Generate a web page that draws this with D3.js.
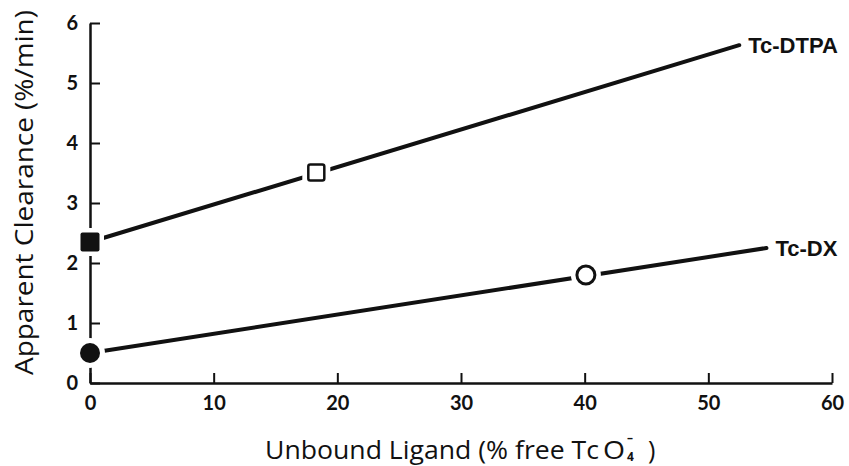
<!DOCTYPE html>
<html>
<head>
<meta charset="utf-8">
<script src="https://cdn.jsdelivr.net/npm/d3@7"></script>
<style>
  body { margin: 0; background: #fff; }
  svg { display: block; }
</style>
</head>
<body>
<svg id="chart"></svg>
<script>
const width = 849;
const height = 466;

// values
const xTicks = [0, 10, 20, 30, 40, 50, 60];
const yTicks = [0, 1, 2, 3, 4, 5, 6];
const seriesNames = ['Tc-DTPA', 'Tc-DX'];

const dtpaX = [0, 18.3];
const dtpaY = [2.35, 3.51];
const dtpaFill = [true, false];
const dtpaFit = [[0, 2.35], [52.5, 5.63]];

const dxX = [0, 40.1];
const dxY = [0.5, 1.8];
const dxFill = [true, false];
const dxFit = [[0, 0.5], [54.7, 2.25]];

const titleFont = '"Open Sans", sans-serif';

const svg = d3.select('#chart')
    .attr('width', width)
    .attr('height', height);

const x = d3.scaleLinear().domain([0, 60]).range([90, 832]);
const y = d3.scaleLinear().domain([0, 6]).range([383, 23]);

const xAxis = svg.append('g')
    .attr('transform', `translate(0, ${y(0)})`)
    .call(d3.axisBottom(x).tickValues(xTicks).tickFormat(d3.format('d'))
        .tickSize(-10).tickSizeOuter(0).tickPadding(13));

const yAxis = svg.append('g')
    .attr('transform', `translate(${x(0)}, 0)`)
    .call(d3.axisLeft(y).tickValues(yTicks).tickFormat(d3.format('d'))
        .tickSize(-10).tickSizeOuter(0).tickPadding(12));

[xAxis, yAxis].forEach(a => {
    a.select('.domain').attr('stroke', '#111').attr('stroke-width', 2.5);
    a.selectAll('.tick line').attr('stroke', '#111').attr('stroke-width', 2);
    a.selectAll('.tick text')
        .attr('fill', '#111')
        .style('font-family', 'Lato, "DejaVu Sans", sans-serif')
        .style('font-weight', 'bold')
        .style('font-size', '20px');
});

// x axis title, with TcO4- built from pieces
const xTitle = svg.append('g').attr('fill', '#111')
    .style('font-family', titleFont).style('font-size', '25px');
xTitle.append('text')
    .attr('x', 265).attr('y', 459)
    .attr('textLength', 334).attr('lengthAdjust', 'spacingAndGlyphs')
    .text('Unbound Ligand (% free Tc');
xTitle.append('text')
    .attr('x', 603).attr('y', 459)
    .attr('textLength', 22).attr('lengthAdjust', 'spacingAndGlyphs')
    .text('O');
xTitle.append('text')
    .attr('x', 627).attr('y', 461)
    .style('font-size', '12px').style('font-weight', 'bold')
    .text('4');
xTitle.append('text')
    .attr('x', 627).attr('y', 442)
    .style('font-size', '12px').style('font-weight', 'bold')
    .text('\u2013');
xTitle.append('text')
    .attr('x', 648).attr('y', 459)
    .text(')');

svg.append('text')
    .attr('transform', 'translate(33, 375) rotate(-90)')
    .attr('textLength', 365).attr('lengthAdjust', 'spacingAndGlyphs')
    .style('font-family', titleFont)
    .style('font-size', '25px')
    .attr('fill', '#111')
    .text('Apparent Clearance (%/min)');

const line = d3.line().x(d => x(d[0])).y(d => y(d[1]));

const series = [
    {name: seriesNames[0], fit: dtpaFit, xs: dtpaX, ys: dtpaY, fill: dtpaFill, shape: 'square'},
    {name: seriesNames[1], fit: dxFit, xs: dxX, ys: dxY, fill: dxFill, shape: 'circle'}
];

series.forEach(s => {
    svg.append('path')
        .attr('d', line(s.fit))
        .attr('fill', 'none')
        .attr('stroke', '#111')
        .attr('stroke-width', 4)
        .attr('stroke-linecap', 'round');

    const pts = s.xs.map((v, i) => ({x: v, y: s.ys[i], filled: s.fill[i]}));

    if (s.shape === 'square') {
        // white halo so the line stops short of the marker
        svg.selectAll(null).data(pts).enter().append('rect')
            .attr('x', d => x(d.x) - 14).attr('y', d => y(d.y) - 14)
            .attr('width', 28).attr('height', 28)
            .attr('fill', '#fff');
        svg.selectAll(null).data(pts).enter().append('rect')
            .attr('x', d => x(d.x) - (d.filled ? 9.5 : 8))
            .attr('y', d => y(d.y) - (d.filled ? 9.5 : 8))
            .attr('width', d => d.filled ? 19 : 16)
            .attr('height', d => d.filled ? 19 : 16)
            .attr('rx', 2)
            .attr('fill', d => d.filled ? '#111' : '#fff')
            .attr('stroke', '#111')
            .attr('stroke-width', d => d.filled ? 0 : 2.5);
    } else {
        svg.selectAll(null).data(pts).enter().append('circle')
            .attr('cx', d => x(d.x)).attr('cy', d => y(d.y))
            .attr('r', 15)
            .attr('fill', '#fff');
        svg.selectAll(null).data(pts).enter().append('circle')
            .attr('cx', d => x(d.x)).attr('cy', d => y(d.y))
            .attr('r', d => d.filled ? 10 : 9)
            .attr('fill', d => d.filled ? '#111' : '#fff')
            .attr('stroke', '#111')
            .attr('stroke-width', d => d.filled ? 0 : 3);
    }

    const end = s.fit[s.fit.length - 1];
    svg.append('text')
        .attr('x', x(end[0]) + 9)
        .attr('y', y(end[1]))
        .attr('dy', '0.36em')
        .style('font-family', '"Liberation Sans", Arial, sans-serif')
        .style('font-weight', 'bold')
        .style('font-size', '22px')
        .attr('fill', '#111')
        .text(s.name);
});
</script>
</body>
</html>
